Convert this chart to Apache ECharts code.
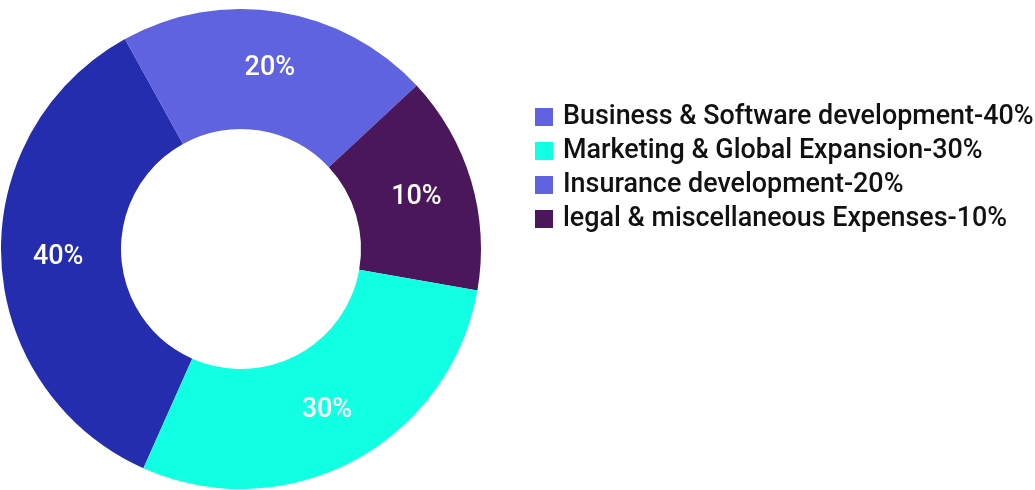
<!DOCTYPE html>
<html>
<head>
<meta charset="utf-8">
<script src="https://cdn.jsdelivr.net/npm/echarts@6/dist/echarts.min.js"></script>
<style>
html,body{margin:0;padding:0;background:#fff;}
#chart{width:1035px;height:490px;}
</style>
</head>
<body>
<div id="chart"></div>
<script>
// Legend / category names (legend order)
const categories = [
  'Business & Software development-40%',
  'Marketing & Global Expansion-30%',
  'Insurance development-20%',
  'legal & miscellaneous Expenses-10%'
];
// Text printed on each slice
const sliceLabels = ['40%', '30%', '20%', '10%'];
// Slice sizes as drawn in the picture (angular share, %)
const values = [35.3, 28.9, 21.1, 14.7];
const colors = ['#232dad', '#11ffe3', '#5f63e0', '#4a175a'];
const legendColors = ['#5f63e0', '#11ffe3', '#5f63e0', '#4a175a'];
// clockwise drawing order of the slices
const drawOrder = [0, 2, 3, 1];

const chart = echarts.init(document.getElementById('chart'));
const data = drawOrder.map(i => ({
  name: categories[i],
  value: values[i],
  itemStyle: { color: colors[i] },
  label: { formatter: sliceLabels[i] }
}));

chart.setOption({
  animation: false,
  legend: {
    orient: 'vertical',
    left: 530,
    top: 98,
    itemWidth: 18,
    itemHeight: 18,
    itemGap: 6,
    icon: 'rect',
    selectedMode: false,
    data: categories.map((c, i) => ({ name: c, itemStyle: { color: legendColors[i] } })),
    textStyle: {
      fontFamily: 'Roboto',
      fontWeight: 500,
      fontSize: 26.9,
      color: '#111',
      lineHeight: 28,
      padding: [0, 0, 0, 5]
    }
  },
  series: [{
    type: 'pie',
    center: [241, 249],
    radius: [120, 240],
    startAngle: 246,
    clockwise: true,
    silent: true,
    label: {
      show: true,
      position: 'inside',
      color: '#fff',
      fontFamily: 'Roboto',
      fontWeight: 500,
      fontSize: 27
    },
    labelLine: { show: false },
    itemStyle: { borderWidth: 0 },
    data: data
  }]
});
</script>
</body>
</html>
